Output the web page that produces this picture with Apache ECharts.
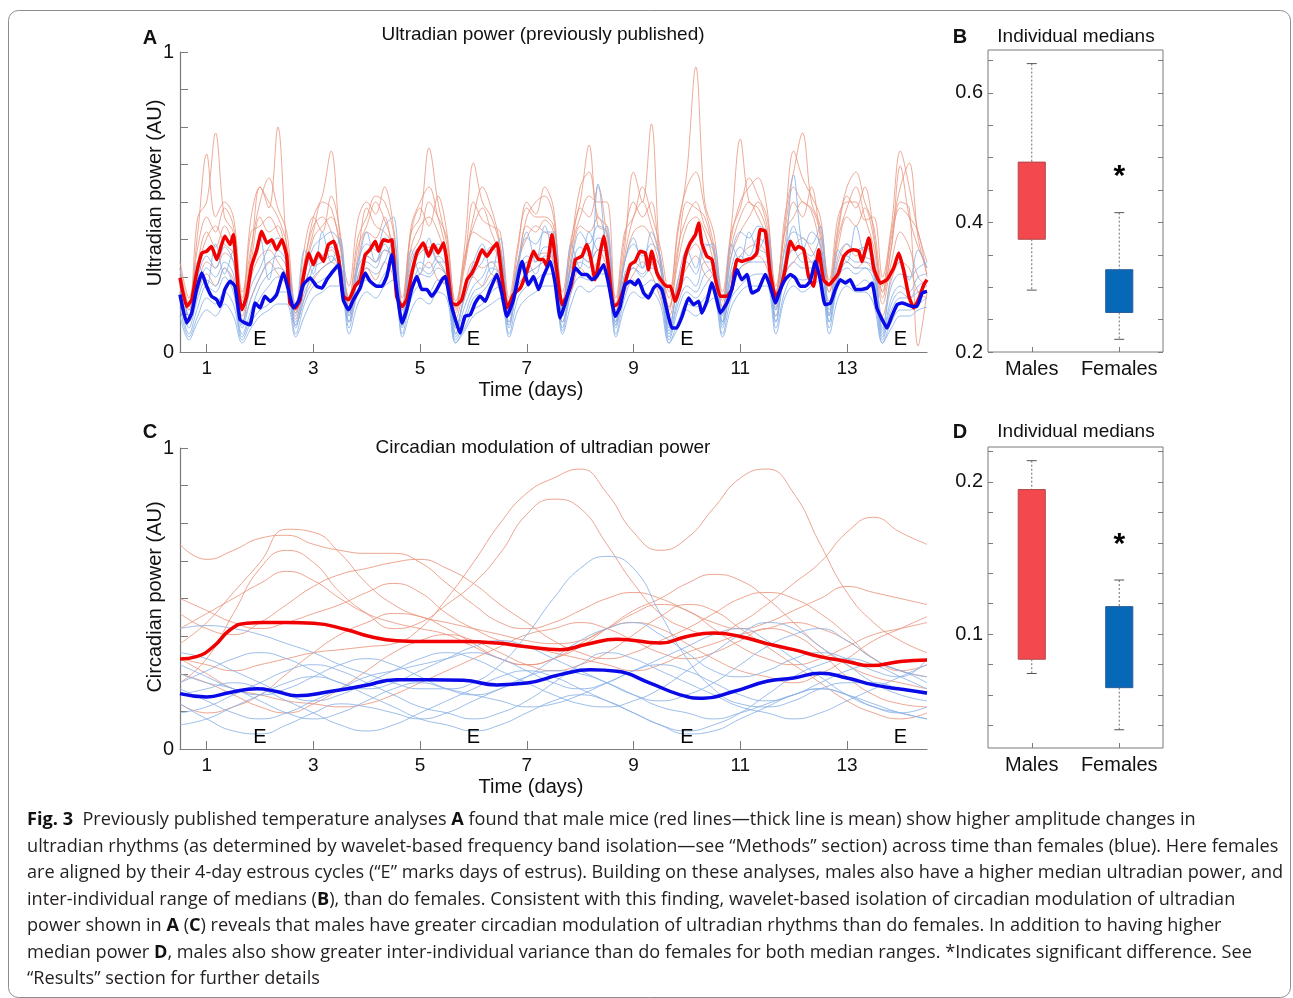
<!DOCTYPE html>
<html><head><meta charset="utf-8">
<script src="https://cdn.jsdelivr.net/npm/echarts@6/dist/echarts.min.js"></script>
<style>html,body{margin:0;padding:0;background:#fff}#c{width:1293px;height:998px}</style>
</head><body><div id="c"></div>
<script>
// ---------------- DATA ----------------
const xTicks = [1, 3, 5, 7, 9, 11, 13];
const yTicksAC = [0, 0.125, 0.25, 0.375, 0.5, 0.625, 0.75, 0.875, 1];
const yLabelsAC = [0, 1];
const estrusDays = [2, 6, 10, 14];
const boxCategories = ['Males', 'Females'];

// Panel A: mean ultradian power [day, value]
const ultradianMaleMean = [[0.5,.247],[0.625,.152],[0.72,.174],[0.81,.263],[0.91,.33],[1.0,.336],[1.09,.352],[1.19,.308],[1.28,.358],[1.34,.386],[1.44,.358],[1.5,.391],[1.59,.208],[1.66,.141],[1.75,.186],[1.84,.286],[1.94,.341],[2.03,.402],[2.13,.363],[2.22,.374],[2.31,.341],[2.41,.374],[2.5,.319],[2.56,.163],[2.66,.147],[2.75,.174],[2.81,.247],[2.91,.33],[3.0,.291],[3.09,.33],[3.19,.302],[3.28,.358],[3.38,.369],[3.47,.313],[3.56,.186],[3.66,.174],[3.78,.219],[3.88,.241],[3.97,.324],[4.06,.341],[4.16,.369],[4.22,.336],[4.31,.374],[4.41,.369],[4.47,.374],[4.56,.186],[4.66,.152],[4.75,.174],[4.84,.258],[4.94,.33],[5.06,.363],[5.16,.319],[5.25,.358],[5.34,.33],[5.44,.363],[5.5,.302],[5.59,.163],[5.69,.158],[5.78,.174],[5.88,.241],[5.97,.263],[6.06,.297],[6.16,.341],[6.25,.319],[6.34,.341],[6.44,.363],[6.53,.252],[6.63,.147],[6.75,.192],[6.88,.214],[7.0,.268],[7.125,.336],[7.22,.308],[7.31,.308],[7.375,.286],[7.47,.391],[7.56,.274],[7.66,.158],[7.75,.186],[7.84,.23],[7.91,.308],[8.03,.319],[8.125,.358],[8.19,.319],[8.28,.241],[8.375,.33],[8.44,.386],[8.53,.286],[8.625,.152],[8.72,.163],[8.81,.208],[8.94,.291],[9.03,.302],[9.125,.336],[9.22,.33],[9.28,.274],[9.34,.336],[9.44,.263],[9.53,.236],[9.625,.219],[9.69,.219],[9.78,.169],[9.875,.219],[9.97,.319],[10.06,.363],[10.16,.391],[10.22,.43],[10.28,.363],[10.375,.319],[10.47,.308],[10.53,.247],[10.625,.186],[10.75,.186],[10.84,.208],[10.94,.308],[11.03,.302],[11.125,.308],[11.22,.313],[11.31,.33],[11.375,.408],[11.47,.402],[11.56,.263],[11.66,.186],[11.75,.208],[11.84,.274],[11.94,.369],[12.03,.341],[12.09,.352],[12.19,.341],[12.28,.252],[12.375,.219],[12.47,.341],[12.56,.241],[12.66,.224],[12.75,.241],[12.84,.263],[12.94,.319],[13.03,.336],[13.125,.341],[13.22,.336],[13.28,.302],[13.41,.38],[13.5,.28],[13.625,.23],[13.75,.241],[13.875,.28],[13.97,.33],[14.06,.274],[14.16,.186],[14.25,.147],[14.34,.174],[14.44,.224],[14.5,.241]];
const ultradianFemaleMean = [[0.5,.191],[0.625,.097],[0.72,.13],[0.81,.208],[0.91,.263],[1.0,.219],[1.09,.186],[1.19,.174],[1.25,.152],[1.34,.208],[1.44,.236],[1.53,.219],[1.625,.108],[1.72,.097],[1.81,.091],[1.91,.163],[2.0,.147],[2.09,.186],[2.19,.169],[2.31,.191],[2.44,.263],[2.53,.208],[2.625,.147],[2.72,.169],[2.81,.224],[2.94,.247],[3.06,.219],[3.16,.213],[3.25,.241],[3.34,.263],[3.47,.291],[3.56,.174],[3.66,.141],[3.75,.174],[3.875,.213],[3.97,.263],[4.06,.236],[4.19,.219],[4.28,.219],[4.375,.252],[4.47,.324],[4.56,.208],[4.66,.097],[4.75,.141],[4.84,.208],[4.94,.252],[5.03,.208],[5.125,.208],[5.22,.186],[5.31,.208],[5.41,.241],[5.47,.252],[5.56,.174],[5.66,.108],[5.75,.063],[5.84,.119],[5.94,.124],[6.03,.163],[6.125,.186],[6.22,.169],[6.31,.208],[6.44,.258],[6.53,.197],[6.625,.119],[6.75,.174],[6.91,.302],[7.03,.224],[7.125,.252],[7.22,.208],[7.31,.252],[7.44,.302],[7.53,.23],[7.625,.113],[7.72,.163],[7.81,.219],[7.91,.28],[8.03,.258],[8.125,.258],[8.22,.241],[8.31,.252],[8.44,.291],[8.53,.23],[8.66,.119],[8.75,.152],[8.84,.224],[8.94,.236],[9.03,.224],[9.09,.241],[9.19,.197],[9.28,.18],[9.375,.213],[9.44,.224],[9.53,.208],[9.625,.141],[9.72,.08],[9.81,.08],[9.91,.119],[10.03,.18],[10.125,.158],[10.22,.169],[10.28,.13],[10.375,.169],[10.47,.23],[10.56,.174],[10.625,.13],[10.75,.163],[10.84,.208],[10.94,.274],[11.03,.241],[11.125,.258],[11.22,.197],[11.34,.208],[11.47,.258],[11.56,.219],[11.66,.163],[11.75,.208],[11.84,.241],[11.94,.258],[12.03,.247],[12.125,.219],[12.22,.219],[12.31,.236],[12.41,.302],[12.5,.241],[12.59,.158],[12.69,.163],[12.78,.208],[12.875,.241],[12.97,.23],[13.06,.241],[13.16,.208],[13.25,.208],[13.375,.213],[13.47,.23],[13.56,.147],[13.66,.108],[13.75,.08],[13.84,.119],[13.94,.158],[14.03,.163],[14.125,.158],[14.22,.152],[14.31,.152],[14.41,.197],[14.5,.202]];

// Panel A: individual animals, sampled every 4 h from day 0.5 to 14.5
const ultradianMaleLines = [
 [.30,.18,.40,.66,.45,.50, .45,.20,.35,.50,.58,.48, .40,.16,.30,.45,.52,.67, .38,.22,.44,.50,.46,.55, .42,.18,.40,.45,.68,.50, .36,.17,.30,.50,.44,.42, .40,.18,.36,.48,.45,.45, .42,.20,.38,.50,.69,.42, .40,.18,.40,.45,.55,.46, .35,.20,.40,.60,.95,.50, .40,.20,.40,.48,.58,.52, .45,.22,.40,.55,.50,.48, .40,.24,.45,.50,.50,.44, .45,.25,.42,.67,.55,.40, .30],
 [.25,.15,.45,.50,.73,.45, .40,.18,.45,.55,.48,.75, .35,.14,.30,.42,.45,.40, .30,.18,.35,.42,.50,.44, .35,.16,.40,.48,.42,.52, .40,.15,.35,.63,.50,.45, .35,.16,.30,.45,.50,.52, .45,.17,.35,.45,.52,.50, .50,.15,.35,.60,.50,.76, .30,.15,.35,.45,.50,.42, .35,.18,.42,.71,.50,.48, .40,.20,.45,.60,.73,.50, .42,.22,.40,.52,.48,.55, .40,.20,.38,.48,.45,.40, .25],
 [.22,.14,.30,.40,.35,.42, .35,.15,.30,.45,.40,.42, .30,.13,.25,.38,.42,.45, .36,.15,.30,.40,.38,.45, .30,.14,.35,.42,.45,.40, .30,.13,.28,.40,.38,.36, .30,.15,.30,.38,.42,.40, .38,.15,.30,.42,.40,.45, .35,.14,.30,.40,.42,.38, .28,.15,.30,.42,.45,.40, .30,.15,.32,.40,.45,.50, .42,.18,.40,.45,.50,.47, .35,.20,.35,.45,.42,.48, .38,.20,.35,.62,.45,.35, .28],
 [.20,.12,.22,.30,.28,.33, .30,.12,.25,.32,.34,.30, .25,.11,.22,.30,.32,.34, .28,.13,.25,.32,.30,.34, .30,.12,.28,.33,.35,.30, .25,.11,.22,.30,.28,.30, .25,.12,.24,.30,.32,.33, .30,.13,.25,.32,.30,.34, .28,.12,.25,.30,.33,.30, .22,.12,.24,.32,.36,.30, .25,.13,.26,.32,.35,.36, .32,.15,.30,.35,.38,.34, .28,.17,.30,.36,.32,.35, .30,.16,.30,.40,.35,.25, .22],
 [.28,.16,.35,.45,.40,.48, .42,.17,.33,.55,.50,.45, .36,.15,.28,.40,.50,.48, .35,.18,.38,.45,.52,.50, .40,.15,.42,.50,.55,.45, .33,.15,.30,.45,.55,.48, .36,.16,.34,.50,.46,.55, .48,.16,.36,.55,.60,.45, .42,.16,.38,.50,.45,.50, .30,.18,.42,.55,.60,.48, .36,.17,.38,.50,.55,.58, .48,.20,.42,.67,.58,.52, .45,.22,.42,.55,.60,.50, .42,.22,.40,.55,.63,.38, .26],
 [.26,.14,.28,.38,.42,.36, .33,.15,.40,.42,.45,.40, .32,.13,.35,.45,.40,.52, .40,.16,.32,.48,.42,.40, .35,.14,.32,.38,.50,.45, .38,.14,.32,.42,.48,.40, .32,.14,.28,.42,.40,.44, .40,.14,.32,.48,.45,.55, .38,.13,.32,.45,.50,.42, .32,.14,.33,.50,.48,.45, .33,.15,.35,.45,.50,.45, .38,.18,.36,.50,.45,.55, .38,.20,.38,.48,.55,.45, .35,.18,.35,.50,.48,.02, .20],
 [.18,.10,.20,.26,.22,.28, .24,.10,.18,.25,.30,.26, .22,.09,.18,.24,.28,.30, .26,.10,.20,.28,.24,.30, .25,.09,.22,.26,.30,.24, .22,.08,.18,.25,.22,.26, .20,.10,.22,.26,.28,.30, .26,.10,.20,.28,.25,.30, .24,.09,.20,.26,.30,.26, .18,.09,.22,.28,.32,.26, .22,.10,.22,.28,.30,.32, .28,.12,.26,.30,.33,.30, .25,.13,.26,.30,.28,.30, .26,.12,.24,.30,.28,.20, .18]
];
const ultradianFemaleLines = [
 [.22,.10,.20,.28,.25,.30, .26,.08,.18,.25,.30,.32, .28,.10,.22,.30,.32,.35, .30,.12,.28,.32,.30,.38, .35,.10,.25,.30,.28,.32, .28,.06,.15,.22,.25,.30, .30,.10,.26,.32,.30,.35, .35,.12,.28,.35,.32,.38, .36,.10,.26,.30,.28,.32, .28,.06,.18,.25,.22,.30, .30,.10,.28,.35,.32,.38, .35,.12,.30,.59,.35,.32, .38,.12,.28,.32,.30,.30, .28,.06,.18,.22,.20,.25, .26],
 [.18,.06,.15,.22,.20,.25, .20,.05,.12,.18,.22,.25, .25,.08,.20,.25,.28,.30, .32,.10,.24,.28,.26,.30, .38,.08,.22,.26,.25,.28, .25,.04,.10,.18,.20,.24, .28,.08,.22,.26,.28,.30, .30,.08,.25,.30,.28,.56, .30,.08,.22,.28,.25,.28, .25,.04,.14,.20,.18,.22, .26,.08,.22,.28,.30,.30, .30,.10,.25,.30,.28,.28, .32,.10,.25,.28,.26,.28, .24,.04,.14,.18,.18,.20, .22],
 [.15,.05,.12,.18,.16,.20, .16,.04,.10,.14,.16,.20, .20,.06,.16,.22,.24,.26, .28,.08,.20,.24,.22,.26, .30,.06,.18,.22,.20,.24, .22,.03,.08,.14,.16,.20, .22,.06,.18,.22,.24,.26, .26,.07,.20,.25,.24,.26, .26,.06,.18,.24,.22,.24, .20,.03,.10,.16,.15,.18, .22,.06,.18,.22,.25,.26, .26,.08,.20,.25,.24,.25, .28,.08,.22,.24,.22,.24, .20,.03,.10,.14,.14,.16, .18],
 [.25,.12,.25,.32,.28,.35, .30,.10,.22,.28,.35,.38, .32,.12,.26,.35,.38,.40, .36,.14,.30,.36,.34,.42, .45,.12,.30,.35,.32,.36, .32,.08,.18,.26,.30,.35, .34,.12,.30,.38,.36,.40, .40,.14,.30,.40,.36,.42, .40,.12,.30,.36,.32,.36, .32,.08,.22,.30,.26,.35, .36,.12,.32,.40,.38,.42, .40,.14,.34,.40,.38,.36, .42,.14,.32,.36,.34,.35, .32,.08,.22,.26,.25,.28, .30],
 [.20,.08,.18,.24,.22,.28, .22,.06,.14,.22,.26,.28, .26,.09,.18,.28,.30,.32, .26,.10,.25,.30,.28,.34, .32,.09,.20,.28,.26,.30, .25,.05,.12,.20,.22,.28, .26,.09,.24,.30,.26,.32, .32,.10,.22,.32,.30,.34, .33,.09,.24,.28,.26,.30, .24,.05,.16,.22,.20,.26, .28,.09,.25,.32,.30,.34, .32,.10,.28,.34,.30,.30, .34,.10,.24,.30,.28,.28, .26,.05,.16,.20,.18,.22, .24],
 [.12,.04,.10,.14,.12,.16, .12,.03,.08,.12,.14,.16, .16,.05,.12,.18,.20,.22, .22,.06,.16,.20,.18,.22, .24,.05,.14,.18,.16,.20, .18,.03,.07,.12,.14,.16, .18,.05,.14,.18,.20,.22, .22,.06,.16,.22,.20,.22, .22,.05,.15,.20,.18,.20, .16,.03,.08,.14,.12,.15, .18,.05,.15,.20,.22,.22, .22,.06,.18,.22,.20,.22, .24,.06,.18,.22,.20,.20, .16,.03,.08,.12,.12,.14, .15],
 [.28,.12,.30,.22,.36,.26, .34,.09,.26,.38,.24,.34, .30,.14,.34,.26,.40,.30, .38,.12,.28,.40,.30,.36, .28,.10,.34,.26,.38,.30, .30,.06,.20,.30,.36,.26, .38,.14,.28,.40,.30,.42, .30,.12,.36,.28,.40,.34, .42,.10,.30,.38,.28,.40, .30,.07,.24,.34,.28,.36, .34,.10,.36,.30,.40,.34, .40,.14,.30,.42,.34,.40, .36,.12,.34,.30,.42,.32, .30,.07,.26,.30,.24,.34, .28]
];

// Panel C: circadian modulation means [day, value]
const circadianMaleMean = [[0.5,.299],[0.81,.307],[1.125,.34],[1.44,.396],[1.75,.418],[2.06,.42],[2.5,.42],[3.0,.418],[3.625,.396],[4.06,.374],[4.56,.36],[5.19,.357],[5.81,.357],[6.44,.352],[7.0,.34],[7.625,.33],[8.125,.348],[8.69,.365],[9.5,.352],[10.0,.374],[10.5,.385],[11.0,.374],[11.5,.35],[12.0,.33],[12.5,.307],[13.0,.291],[13.44,.277],[14.0,.291],[14.5,.296]];
const circadianFemaleMean = [[0.5,.184],[1.0,.173],[1.44,.188],[1.94,.2],[2.31,.191],[2.69,.177],[3.31,.191],[3.94,.21],[4.56,.23],[5.19,.23],[5.81,.228],[6.44,.213],[7.0,.219],[7.625,.247],[8.19,.263],[8.69,.258],[9.31,.219],[9.875,.18],[10.31,.169],[10.875,.191],[11.5,.225],[12.0,.236],[12.5,.252],[13.0,.236],[13.5,.213],[14.0,.199],[14.5,.186]];
// Panel C: individual animals, sampled every 12 h from day 0.5 to 14.5
const circadianMaleLines = [
 [.68,.63,.66,.70,.71,.68,.66,.65,.65,.62,.55,.48,.42,.40,.42,.46,.50,.52,.50,.46,.42,.40,.42,.46,.50,.54,.52,.50,.48],
 [.30,.28,.26,.28,.30,.32,.33,.34,.35,.40,.50,.62,.75,.85,.90,.93,.85,.72,.66,.70,.80,.90,.93,.85,.68,.52,.42,.36,.32],
 [.22,.30,.45,.60,.66,.62,.52,.45,.40,.42,.48,.55,.65,.78,.83,.80,.68,.55,.45,.40,.38,.42,.48,.55,.62,.72,.77,.72,.68],
 [.35,.42,.52,.62,.73,.72,.65,.55,.48,.44,.42,.40,.38,.36,.35,.36,.40,.45,.48,.46,.40,.34,.30,.28,.30,.34,.38,.40,.42],
 [.40,.45,.50,.55,.59,.56,.50,.45,.42,.40,.38,.34,.30,.28,.30,.35,.40,.42,.40,.35,.30,.26,.24,.22,.25,.30,.36,.40,.44],
 [.45,.40,.38,.42,.48,.54,.58,.60,.62,.63,.60,.55,.48,.42,.36,.32,.30,.32,.36,.40,.45,.50,.52,.50,.45,.38,.30,.26,.24],
 [.15,.12,.14,.18,.25,.32,.38,.42,.45,.44,.40,.35,.30,.28,.30,.34,.40,.46,.50,.55,.58,.56,.50,.42,.34,.28,.24,.22,.20],
 [.30,.25,.20,.18,.16,.15,.14,.15,.18,.22,.26,.30,.34,.38,.40,.42,.40,.36,.32,.30,.32,.36,.40,.38,.32,.24,.18,.15,.14],
 [.25,.22,.18,.14,.12,.15,.20,.26,.32,.36,.38,.36,.32,.28,.26,.28,.32,.38,.44,.48,.46,.40,.34,.28,.22,.16,.12,.10,.12],
 [.50,.46,.42,.40,.42,.45,.48,.52,.55,.52,.45,.40,.36,.34,.32,.30,.28,.26,.28,.32,.35,.38,.40,.42,.40,.36,.30,.26,.28]
];
const circadianFemaleLines = [
 [.40,.41,.40,.38,.35,.32,.28,.25,.22,.20,.20,.22,.28,.38,.50,.60,.64,.60,.45,.30,.20,.15,.14,.16,.20,.22,.22,.20,.18],
 [.25,.22,.20,.16,.12,.10,.12,.16,.20,.22,.20,.18,.16,.14,.15,.18,.22,.26,.30,.34,.38,.40,.36,.30,.24,.18,.14,.12,.14],
 [.15,.10,.06,.05,.08,.12,.15,.14,.12,.10,.12,.16,.20,.24,.26,.25,.22,.18,.14,.12,.10,.12,.15,.18,.20,.18,.15,.12,.10],
 [.22,.26,.30,.32,.30,.26,.22,.20,.22,.26,.30,.34,.36,.34,.30,.26,.22,.18,.16,.18,.22,.28,.34,.38,.40,.36,.30,.26,.24],
 [.12,.14,.18,.22,.26,.28,.26,.22,.18,.14,.12,.10,.12,.16,.22,.28,.32,.30,.26,.22,.18,.14,.12,.10,.12,.16,.20,.24,.28],
 [.32,.30,.26,.22,.18,.16,.18,.22,.26,.30,.32,.30,.26,.22,.18,.15,.14,.16,.20,.26,.32,.38,.42,.40,.34,.28,.22,.18,.16],
 [.18,.20,.22,.20,.16,.12,.08,.06,.08,.12,.16,.20,.24,.26,.24,.20,.16,.12,.08,.06,.08,.12,.18,.24,.28,.30,.28,.24,.20],
 [.28,.24,.20,.18,.20,.24,.28,.30,.28,.24,.20,.18,.20,.24,.30,.36,.40,.42,.38,.32,.26,.24,.26,.30,.32,.30,.26,.24,.30],
 [.08,.10,.14,.18,.22,.24,.22,.18,.14,.10,.08,.06,.08,.12,.16,.18,.16,.12,.08,.05,.06,.10,.14,.18,.20,.18,.14,.12,.10],
 [.20,.16,.12,.10,.12,.16,.20,.24,.26,.28,.30,.32,.30,.26,.22,.20,.22,.26,.28,.26,.22,.18,.16,.18,.22,.26,.28,.26,.22]
];

// Panels B and D: box summaries [lower whisker, Q1, Q3, upper whisker]
const ultradianMalesBox = [0.2955, 0.374, 0.493, 0.645];
const ultradianFemalesBox = [0.2196, 0.261, 0.327, 0.415];
const circadianMalesBox = [0.074, 0.0834, 0.195, 0.214];
const circadianFemalesBox = [0.037, 0.0647, 0.118, 0.1355];
const yTicksB = [0.2,0.25,0.3,0.35,0.4,0.45,0.5,0.55,0.6,0.65];
const yLabelsB = [0.2, 0.4, 0.6];
const yTicksD = [0.04,0.06,0.08,0.1,0.12,0.14,0.16,0.18,0.2,0.22];
const yLabelsD = [0.1, 0.2];

const captionLines = [
 '{b|Fig. 3}  Previously published temperature analyses {b|A} found that male mice (red lines—thick line is mean) show higher amplitude changes in',
 'ultradian rhythms (as determined by wavelet-based frequency band isolation—see \u201cMethods\u201d section) across time than females (blue). Here females',
 'are aligned by their 4-day estrous cycles (\u201cE\u201d marks days of estrus). Building on these analyses, males also have a higher median ultradian power, and',
 'inter-individual range of medians ({b|B}), than do females. Consistent with this finding, wavelet-based isolation of circadian modulation of ultradian',
 'power shown in {b|A} ({b|C}) reveals that males have greater circadian modulation of ultradian rhythms than do females. In addition to having higher',
 'median power {b|D}, males also show greater inter-individual variance than do females for both median ranges. *Indicates significant difference. See',
 '\u201cResults\u201d section for further details'
];

// ---------------- CHART ----------------
const FONT = '"Liberation Sans", Arial, sans-serif';
const AXC = '#7b7b7b';
const RED_THIN = '#e9957e', BLUE_THIN = '#8bb2e6';
const chart = echarts.init(document.getElementById('c'), null, {renderer: 'canvas'});

const stepA = 1 / 6, stepC = 0.5;
const toPairs = (vals, step) => vals.map((v, i) => [0.5 + i * step, v]);

function lineAxesX(gi) {
  return {
    type: 'value', gridIndex: gi, min: 0.5, max: 14.5,
    axisLine: {show: true, lineStyle: {color: AXC, width: 1.2}},
    axisTick: {show: true, inside: true, length: 8, customValues: xTicks, lineStyle: {color: AXC}},
    axisLabel: {customValues: xTicks, color: '#111', fontSize: 19, fontFamily: FONT, margin: 7},
    splitLine: {show: false}
  };
}
function lineAxesY(gi) {
  return {
    type: 'value', gridIndex: gi, min: 0, max: 1,
    axisLine: {show: true, lineStyle: {color: AXC, width: 1.2}},
    axisTick: {show: true, inside: true, length: 8, customValues: yTicksAC, lineStyle: {color: AXC}},
    axisLabel: {customValues: yLabelsAC, color: '#111', fontSize: 20, fontFamily: FONT, margin: 6},
    splitLine: {show: false}
  };
}
function boxY(gi, min, max, ticks, labels, pos) {
  return {
    type: 'value', gridIndex: gi, min: min, max: max, position: pos,
    axisLine: {show: false},
    axisTick: {show: true, inside: true, length: 5, customValues: ticks, lineStyle: {color: AXC}},
    axisLabel: {show: pos === 'left', customValues: labels, color: '#111', fontSize: 20, fontFamily: FONT, margin: 5,
      formatter: v => v.toFixed(1)},
    splitLine: {show: false}
  };
}
function boxX(gi) {
  return {
    type: 'category', gridIndex: gi, data: boxCategories,
    axisLine: {show: false},
    axisTick: {show: true, inside: true, length: 5, alignWithLabel: true, interval: 0, lineStyle: {color: AXC}},
    axisLabel: {color: '#111', fontSize: 20, fontFamily: FONT, margin: 7, interval: 0, hideOverlap: false},
    splitLine: {show: false}
  };
}

function boxRender(params, api) {
  const i = api.value(0);
  const lo = api.coord([i, api.value(1)]);
  const q1 = api.coord([i, api.value(2)]);
  const q3 = api.coord([i, api.value(3)]);
  const hi = api.coord([i, api.value(4)]);
  const bw = api.size([1, 0])[0] * 0.31;
  const cw = 10;
  const x = lo[0];
  const fill = api.visual('color');
  const stroke = i === 0 ? '#b04a4a' : '#2a5f98';
  return {type: 'group', children: [
    {type: 'line', shape: {x1: x, y1: hi[1], x2: x, y2: q3[1]}, style: {stroke: '#6f6f6f', lineWidth: 1, lineDash: [2, 2]}},
    {type: 'line', shape: {x1: x, y1: q1[1], x2: x, y2: lo[1]}, style: {stroke: '#6f6f6f', lineWidth: 1, lineDash: [2, 2]}},
    {type: 'line', shape: {x1: x - cw / 2, y1: hi[1], x2: x + cw / 2, y2: hi[1]}, style: {stroke: '#555', lineWidth: 1}},
    {type: 'line', shape: {x1: x - cw / 2, y1: lo[1], x2: x + cw / 2, y2: lo[1]}, style: {stroke: '#555', lineWidth: 1}},
    {type: 'rect', shape: {x: x - bw / 2, y: q3[1], width: bw, height: q1[1] - q3[1]}, style: {fill: fill, stroke: stroke, lineWidth: 1}}
  ]};
}

const series = [];
ultradianMaleLines.forEach(v => series.push({type: 'line', xAxisIndex: 0, yAxisIndex: 0, data: toPairs(v, stepA), showSymbol: false, smooth: 0.35, silent: true,
  lineStyle: {color: RED_THIN, width: 1, opacity: 0.8}, z: 1}));
ultradianFemaleLines.forEach(v => series.push({type: 'line', xAxisIndex: 0, yAxisIndex: 0, data: toPairs(v, stepA), showSymbol: false, smooth: 0.35, silent: true,
  lineStyle: {color: BLUE_THIN, width: 1, opacity: 0.85}, z: 2}));
series.push({type: 'line', xAxisIndex: 0, yAxisIndex: 0, data: ultradianMaleMean, showSymbol: false, smooth: 0.15, lineStyle: {color: '#f00000', width: 3.5}, z: 5});
series.push({type: 'line', xAxisIndex: 0, yAxisIndex: 0, data: ultradianFemaleMean, showSymbol: false, smooth: 0.15, lineStyle: {color: '#0a0ae6', width: 3.5}, z: 6});

circadianMaleLines.forEach(v => series.push({type: 'line', xAxisIndex: 1, yAxisIndex: 1, data: toPairs(v, stepC), showSymbol: false, smooth: 0.5, silent: true,
  lineStyle: {color: RED_THIN, width: 1, opacity: 0.85}, z: 1}));
circadianFemaleLines.forEach(v => series.push({type: 'line', xAxisIndex: 1, yAxisIndex: 1, data: toPairs(v, stepC), showSymbol: false, smooth: 0.5, silent: true,
  lineStyle: {color: BLUE_THIN, width: 1, opacity: 0.85}, z: 2}));
series.push({type: 'line', xAxisIndex: 1, yAxisIndex: 1, data: circadianMaleMean, showSymbol: false, smooth: 0.5, lineStyle: {color: '#f00000', width: 3.5}, z: 5});
series.push({type: 'line', xAxisIndex: 1, yAxisIndex: 1, data: circadianFemaleMean, showSymbol: false, smooth: 0.5, lineStyle: {color: '#0a0ae6', width: 3.5}, z: 6});

// Estrus markers
const eLabel = {show: true, formatter: 'E', position: 'inside', color: '#000', opacity: 1, textBorderWidth: 0, fontSize: 20, fontFamily: FONT};
const hiddenDot = {color: 'rgba(255,255,255,0)'};
series.push({type: 'scatter', xAxisIndex: 0, yAxisIndex: 0, symbolSize: 2, itemStyle: hiddenDot, label: eLabel, z: 10,
  data: estrusDays.map(d => [d, 0.041])});
series.push({type: 'scatter', xAxisIndex: 1, yAxisIndex: 1, symbolSize: 2, itemStyle: hiddenDot, label: eLabel, z: 10,
  data: estrusDays.map(d => [d, 0.037])});

// Box plots
series.push({type: 'custom', xAxisIndex: 2, yAxisIndex: 2, renderItem: boxRender, encode: {x: 0, y: [1, 2, 3, 4]},
  data: [{value: [0, ...ultradianMalesBox], itemStyle: {color: '#f2484e'}}, {value: [1, ...ultradianFemalesBox], itemStyle: {color: '#0868b8'}}]});
series.push({type: 'custom', xAxisIndex: 3, yAxisIndex: 4, renderItem: boxRender, encode: {x: 0, y: [1, 2, 3, 4]},
  data: [{value: [0, ...circadianMalesBox], itemStyle: {color: '#f2484e'}}, {value: [1, ...circadianFemalesBox], itemStyle: {color: '#0868b8'}}]});
const starLabel = {show: true, formatter: '*', position: 'inside', color: '#000', opacity: 1, textBorderWidth: 0, fontSize: 30, fontWeight: 'bold', fontFamily: FONT};
series.push({type: 'scatter', xAxisIndex: 2, yAxisIndex: 2, symbolSize: 2, itemStyle: hiddenDot, label: starLabel, z: 10, data: [[1, 0.47]]});
series.push({type: 'scatter', xAxisIndex: 3, yAxisIndex: 4, symbolSize: 2, itemStyle: hiddenDot, label: starLabel, z: 10, data: [[1, 0.159]]});

const txt = (text, x, y, size, opts = {}) => ({type: 'text', x: x, y: y, silent: true, z: 100,
  style: Object.assign({text: text, fill: '#111', fontSize: size, fontFamily: FONT, textAlign: 'center', textVerticalAlign: 'middle'}, opts)});

const graphics = [
  {type: 'rect', shape: {x: 8.5, y: 10.5, width: 1282, height: 987, r: 10}, style: {fill: 'none', stroke: '#8c8c8c', lineWidth: 1}, silent: true},
  txt('A', 150, 38, 20, {fontWeight: 'bold'}),
  txt('C', 150, 432, 20, {fontWeight: 'bold'}),
  txt('B', 960, 37, 20, {fontWeight: 'bold'}),
  txt('D', 960, 432, 20, {fontWeight: 'bold'}),
  txt('Ultradian power (previously published)', 543, 35, 19),
  txt('Circadian modulation of ultradian power', 543, 448, 19),
  txt('Individual medians', 1076, 37, 19),
  txt('Individual medians', 1076, 432, 19),
  txt('Time (days)', 531, 390, 20),
  txt('Time (days)', 531, 787, 20),
  {type: 'text', x: 155, y: 193, rotation: Math.PI / 2, silent: true, z: 100,
    style: {text: 'Ultradian power (AU)', fill: '#111', fontSize: 20, fontFamily: FONT, textAlign: 'center', textVerticalAlign: 'middle'}},
  {type: 'text', x: 155, y: 597, rotation: Math.PI / 2, silent: true, z: 100,
    style: {text: 'Circadian power (AU)', fill: '#111', fontSize: 20, fontFamily: FONT, textAlign: 'center', textVerticalAlign: 'middle'}}
];
const capFont = '"Open Sans", "Noto Sans", sans-serif';
captionLines.forEach((line, i) => {
  graphics.push({type: 'text', x: 27, y: 820 + i * 26.5, scaleX: 1.008, silent: true, z: 100,
    style: {text: line, fill: '#231f20', fontSize: 18, fontFamily: capFont, textVerticalAlign: 'middle',
      rich: {b: {fontWeight: 'bold', fontSize: 18, fontFamily: capFont, fill: '#111'}}}});
});

chart.setOption({
  animation: false,
  textStyle: {fontFamily: FONT},
  grid: [
    {left: 180, top: 52, width: 747, height: 300},
    {left: 180, top: 448, width: 747, height: 301},
    {left: 988, top: 50, width: 175, height: 302, show: true, borderColor: AXC, borderWidth: 1},
    {left: 988, top: 447, width: 175, height: 301, show: true, borderColor: AXC, borderWidth: 1}
  ],
  xAxis: [lineAxesX(0), lineAxesX(1), boxX(2), boxX(3)],
  yAxis: [lineAxesY(0), lineAxesY(1),
    boxY(2, 0.2, 0.666, yTicksB, yLabelsB, 'left'), boxY(2, 0.2, 0.666, yTicksB, yLabelsB, 'right'),
    boxY(3, 0.025, 0.223, yTicksD, yLabelsD, 'left'), boxY(3, 0.025, 0.223, yTicksD, yLabelsD, 'right')],
  series: series,
  graphic: graphics
});
</script></body></html>
